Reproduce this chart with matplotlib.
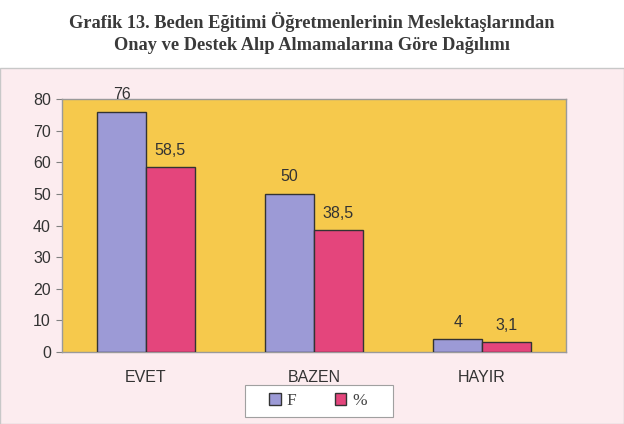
import matplotlib
matplotlib.use("Agg")
import matplotlib.pyplot as plt
from matplotlib.patches import Rectangle, Patch
import numpy as np

categories = ["EVET", "BAZEN", "HAYIR"]
f_values = [76, 50, 4]
pct_values = [58.5, 38.5, 3.1]
f_labels = ["76", "50", "4"]
pct_labels = ["58,5", "38,5", "3,1"]
series_names = ["F", "%"]
title = "Grafik 13. Beden Eğitimi Öğretmenlerinin Meslektaşlarından\nOnay ve Destek Alıp Almamalarına Göre Dağılımı"

W, H = 624, 424
fig = plt.figure(figsize=(W / 100, H / 100), dpi=100)
fig.patch.set_facecolor("white")

# chart frame background
frame = Rectangle((0, 0), 1, (H - 68) / H, transform=fig.transFigure,
                  facecolor="#fcecef", edgecolor="#c8c8c8", linewidth=1, zorder=-5)
fig.patches.append(frame)

fig.text(0.5, 1 - 33 / H, title, ha="center", va="center", fontsize=13.2,
         fontweight="bold", family="Liberation Serif", color="#3a3a3a",
         linespacing=1.4)

ax = fig.add_axes([62 / W, (H - 352) / H, 504 / W, (352 - 99) / H])
ax.set_zorder(2)
ax.set_facecolor("#f6c94c")

x = np.arange(len(categories))
bw = 0.29
b1 = ax.bar(x - bw / 2, f_values, bw, color="#9c9ad6", edgecolor="#333333", linewidth=1, zorder=3)
b2 = ax.bar(x + bw / 2, pct_values, bw, color="#e4457c", edgecolor="#333333", linewidth=1, zorder=3)

for rect, lab in zip(b1, f_labels):
    ax.text(rect.get_x() + rect.get_width() / 2, rect.get_height() + 3.0, lab,
            ha="center", va="bottom", fontsize=11.5, family="Liberation Sans", color="#333333")
for rect, lab in zip(b2, pct_labels):
    ax.text(rect.get_x() + rect.get_width() / 2, rect.get_height() + 3.0, lab,
            ha="center", va="bottom", fontsize=11.5, family="Liberation Sans", color="#333333")

ax.set_xlim(-0.5, 2.5)
ax.set_ylim(0, 80)
ax.set_yticks(range(0, 81, 10))
ax.set_xticks(x)
ax.set_xticklabels(categories)
for lab in ax.get_xticklabels() + ax.get_yticklabels():
    lab.set_family("Liberation Sans")
    lab.set_fontsize(11.5)
    lab.set_color("#333333")
ax.tick_params(axis="x", length=0, pad=13)
ax.tick_params(axis="y", length=4, color="#808080", pad=4)
for s in ax.spines.values():
    s.set_color("#9a9a9a")
    s.set_linewidth(1)

# legend box
lbox = Rectangle((245 / W, 1 - 417 / H), 148 / W, 32 / H, transform=fig.transFigure,
                 facecolor="white", edgecolor="#a0a0a0", linewidth=0.8, zorder=1)
fig.patches.append(lbox)
handles = [Patch(facecolor="#9c9ad6", edgecolor="#333333", label=series_names[0]),
           Patch(facecolor="#e4457c", edgecolor="#333333", label=series_names[1])]
leg = fig.legend(handles=handles, loc="center", bbox_to_anchor=(318 / W, 1 - 401 / H),
                 ncol=2, frameon=False,
                 prop={"family": "Liberation Serif", "size": 12.5},
                 handlelength=0.65, handleheight=0.65, columnspacing=2.2,
                 handletextpad=0.35, borderpad=0, borderaxespad=0)
for t in leg.get_texts():
    t.set_color("#444444")

fig.savefig("out.png", dpi=100, facecolor=fig.get_facecolor())
